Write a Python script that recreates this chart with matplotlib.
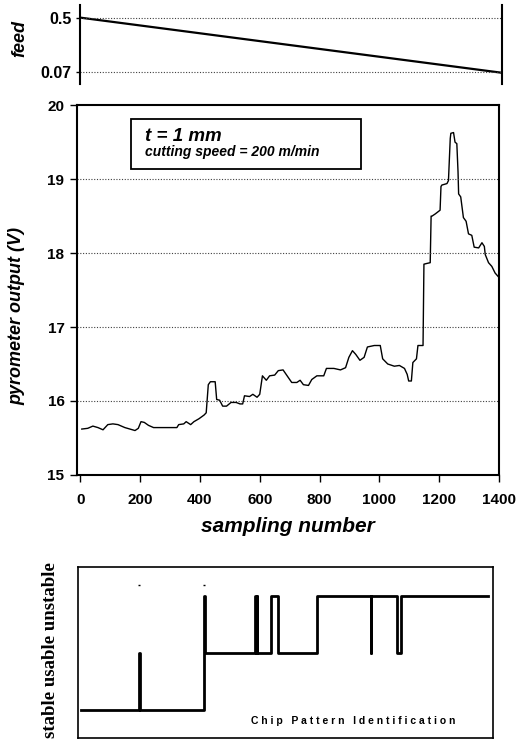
import matplotlib
matplotlib.use('Agg')
import matplotlib.pyplot as plt
from matplotlib.patches import Rectangle

plt.rcParams['font.family'] = ['Liberation Sans', 'DejaVu Sans']

# feed (top strip)
feed_x = [0, 1400]
feed_y = [0.5, 0.062]
feed_ticks = [0.07, 0.5]
feed_tick_labels = ['0.07', '0.5']

# pyrometer output
sample = [5, 25, 42, 59, 76, 92, 109, 126, 149, 166, 183, 194, 203, 214, 228,
          245, 273, 323, 329, 346, 354, 369, 380, 397, 414, 421, 428, 435, 451,
          456, 466, 476, 489, 504, 521, 534, 543, 549, 566, 577, 591, 600, 609,
          622, 633, 650, 662, 678, 695, 707, 724, 735, 746, 763, 774, 791, 814,
          823, 848, 870, 887, 898, 910, 921, 935, 949, 960, 983, 1003, 1011,
          1028, 1050, 1067, 1084, 1093, 1098, 1107, 1112, 1124, 1129, 1146,
          1149, 1159, 1170, 1173, 1176, 1187, 1203, 1206, 1209, 1226, 1231,
          1237, 1239, 1248, 1253, 1259, 1263, 1265, 1272, 1281, 1290, 1298,
          1309, 1317, 1332, 1343, 1351, 1354, 1365, 1376, 1387, 1400]
pyro = [15.62, 15.63, 15.66, 15.64, 15.61, 15.68, 15.69, 15.68, 15.64, 15.62,
        15.60, 15.63, 15.72, 15.71, 15.67, 15.64, 15.64, 15.64, 15.68, 15.69,
        15.72, 15.68, 15.72, 15.76, 15.81, 15.84, 16.22, 16.26, 16.26, 16.02,
        16.01, 15.93, 15.93, 15.98, 15.98, 15.96, 15.96, 16.07, 16.06, 16.09,
        16.05, 16.09, 16.34, 16.28, 16.34, 16.35, 16.41, 16.42, 16.32, 16.25,
        16.25, 16.28, 16.22, 16.21, 16.29, 16.34, 16.34, 16.44, 16.44, 16.42,
        16.45, 16.59, 16.68, 16.63, 16.55, 16.59, 16.73, 16.75, 16.75, 16.57,
        16.50, 16.47, 16.48, 16.44, 16.36, 16.27, 16.27, 16.52, 16.57, 16.75,
        16.75, 17.85, 17.86, 17.87, 18.50, 18.50, 18.53, 18.58, 18.90, 18.92,
        18.94, 18.98, 19.55, 19.62, 19.63, 19.50, 19.48, 19.10, 18.80, 18.76,
        18.48, 18.43, 18.26, 18.24, 18.08, 18.07, 18.14, 18.09, 17.98, 17.87,
        17.82, 17.73, 17.67]
x_ticks = [0, 200, 400, 600, 800, 1000, 1200, 1400]
y_ticks = [15, 16, 17, 18, 19, 20]

# chip pattern: 0 = stable, 1 = usable, 2 = unstable (steps-post)
chip_x = [0, 199, 202, 423, 427, 600, 602, 604, 607, 652, 677, 812, 996, 999,
          1088, 1101, 1400]
chip_level = [0, 1, 0, 2, 1, 2, 1, 2, 1, 2, 1, 2, 1, 2, 1, 2, 2]
chip_dots_x = [200, 424]
chip_dots_y = [2.2, 2.2]

W, H = 529, 739
fig = plt.figure(figsize=(W / 100, H / 100), dpi=100)


def box(left, top, right, bottom):
    return [left / W, 1 - bottom / H, (right - left) / W, (bottom - top) / H]


grid_kw = dict(color='0.25', lw=0.8, linestyle=(0, (1, 1.5)))

# --- top: feed ---
ax0 = fig.add_axes(box(80, 5, 502, 84))
ax0.plot(feed_x, feed_y, color='black', lw=1.6)
ax0.set_xlim(0, 1400)
ax0.set_ylim(-0.027, 0.6)
for v in feed_ticks:
    ax0.axhline(v, **grid_kw)
ax0.set_yticks(feed_ticks)
ax0.set_yticklabels(feed_tick_labels, fontsize=11.5, fontweight='bold')
ax0.set_xticks([])
ax0.spines['top'].set_visible(False)
ax0.spines['bottom'].set_visible(False)
for s in ('left', 'right'):
    ax0.spines[s].set_linewidth(1.5)
ax0.tick_params(axis='y', length=3, width=1, pad=3)
ax0.set_ylabel('feed', fontsize=13, fontweight='bold', style='italic')
ax0.yaxis.set_label_coords(-0.122, 0.58)

# --- middle: pyrometer ---
ax1 = fig.add_axes(box(77, 105.2, 499, 474.9))
ax1.plot(sample, pyro, color='black', lw=1.0)
ax1.set_xlim(-11, 1400)
ax1.set_ylim(15, 20)
for v in y_ticks[1:-1]:
    ax1.axhline(v, **grid_kw)
ax1.set_xticks(x_ticks)
ax1.set_yticks(y_ticks)
ax1.set_xticklabels([str(t) for t in x_ticks], fontsize=11, fontweight='bold')
ax1.set_yticklabels([str(t) for t in y_ticks], fontsize=11, fontweight='bold')
ax1.tick_params(axis='x', length=5, width=1, pad=8)
ax1.tick_params(axis='y', length=5, width=1, pad=4)
for s in ax1.spines.values():
    s.set_linewidth(1.5)
ax1.set_xlabel('sampling number', fontsize=15, fontweight='bold', style='italic')
ax1.xaxis.set_label_coords(0.5, -0.115)
ax1.set_ylabel('pyrometer output (V)', fontsize=13, fontweight='bold',
               style='italic')
ax1.yaxis.set_label_coords(-0.122, 0.43)

ax1.add_patch(Rectangle((0.128, 0.827), 0.545, 0.1365, transform=ax1.transAxes,
                        facecolor='white', edgecolor='black', lw=1.3, zorder=3))
ax1.text(0.161, 0.904, 't = 1 mm', transform=ax1.transAxes, fontsize=13.5,
         fontweight='bold', style='italic', zorder=4)
ax1.text(0.161, 0.862, 'cutting speed = 200 m/min', transform=ax1.transAxes,
         fontsize=10, fontweight='bold', style='italic', zorder=4)

# --- bottom: chip pattern ---
ax2 = fig.add_axes(box(77.5, 567.4, 493, 737.7))
ax2.plot(chip_x, chip_level, drawstyle='steps-post', color='black', lw=2.0)
ax2.plot(chip_dots_x, chip_dots_y, ls='none', marker='_', ms=2,
         color='black')
ax2.set_xlim(-12, 1417)
ax2.set_ylim(-0.49, 2.51)
ax2.set_xticks([])
ax2.set_yticks([])
for s in ax2.spines.values():
    s.set_linewidth(1.2)

fig.text(51 / W, 1.5 / H, 'stable usable unstable', rotation=90, ha='center',
         va='bottom', fontsize=13.5, fontweight='bold',
         family=['Liberation Serif', 'DejaVu Serif'])
fig.text(251 / W, 1 - 721 / H,
         'C h i p   P a t t e r n   I d e n t i f i c a t i o n',
         ha='left', va='center', fontsize=7.5, fontweight='bold')

fig.savefig('out.png', dpi=100)
